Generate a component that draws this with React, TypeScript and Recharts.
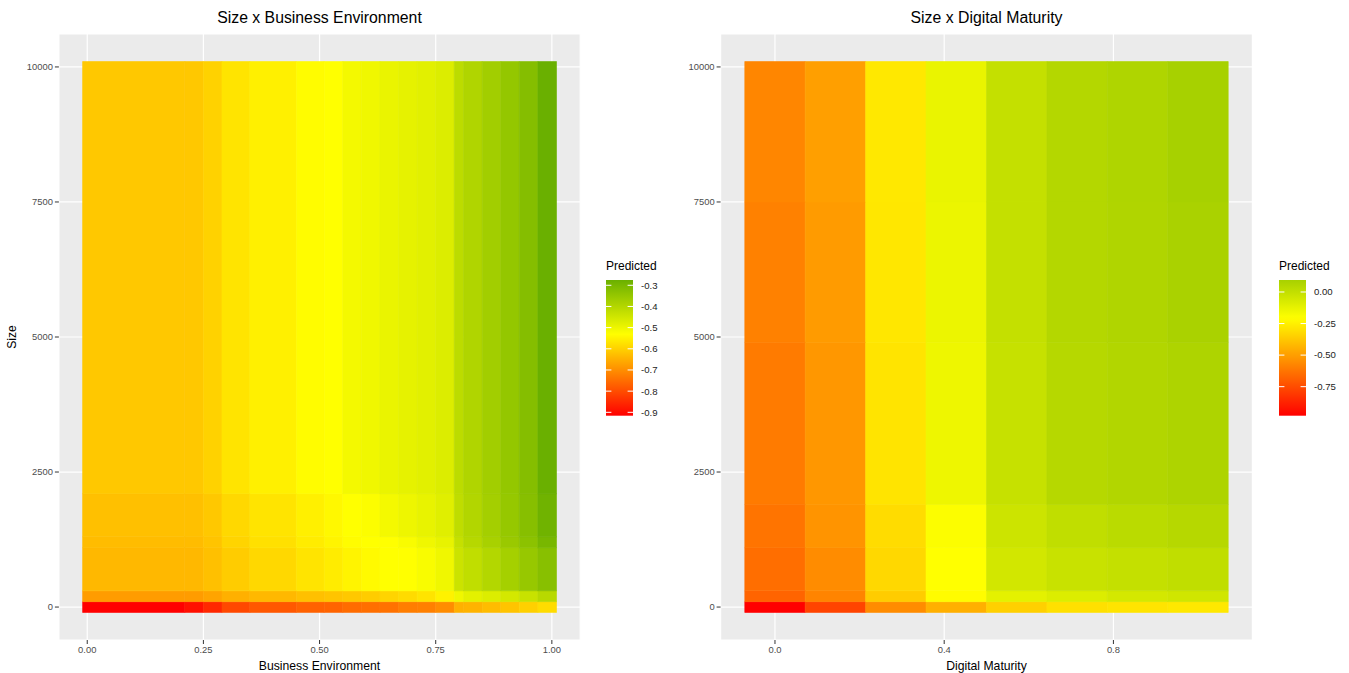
import React from 'react';
import { ScatterChart, Scatter, XAxis, YAxis, CartesianGrid, ReferenceArea } from 'recharts';

const FONT = '"Liberation Sans", Arial, Helvetica, sans-serif';

// ---------- Size x Business Environment ----------
const beXEdges = [-0.01, 0.21, 0.25, 0.29, 0.35, 0.45, 0.51, 0.55, 0.59, 0.63, 0.67, 0.71, 0.75, 0.79, 0.81, 0.85, 0.89, 0.93, 0.97, 1.01];
const beSizeEdges = [-100, 100, 300, 1100, 1300, 2100, 10100];
const beSize0 = [-0.916, -0.892, -0.855, -0.807, -0.783, -0.767, -0.765, -0.752, -0.748, -0.744, -0.725, -0.722, -0.704, -0.65, -0.645, -0.631, -0.619, -0.601, -0.583];
const beSize200 = [-0.68, -0.68, -0.668, -0.65, -0.637, -0.625, -0.619, -0.613, -0.607, -0.595, -0.585, -0.571, -0.55, -0.504, -0.484, -0.47, -0.456, -0.436, -0.408];
const beSize400 = [-0.637, -0.637, -0.625, -0.607, -0.589, -0.571, -0.559, -0.547, -0.537, -0.53, -0.53, -0.52, -0.504, -0.44, -0.422, -0.4, -0.376, -0.352, -0.326];
const beSize1200 = [-0.631, -0.631, -0.619, -0.595, -0.577, -0.559, -0.547, -0.535, -0.53, -0.53, -0.52, -0.504, -0.49, -0.43, -0.405, -0.38, -0.356, -0.332, -0.298];
const beSize1400 = [-0.625, -0.625, -0.613, -0.589, -0.571, -0.553, -0.54, -0.53, -0.525, -0.511, -0.5, -0.491, -0.477, -0.42, -0.398, -0.374, -0.35, -0.324, -0.285];
const beSize2200 = [-0.613, -0.613, -0.598, -0.571, -0.553, -0.535, -0.53, -0.511, -0.504, -0.494, -0.487, -0.48, -0.47, -0.415, -0.395, -0.371, -0.347, -0.32, -0.275];
const bePredicted = [beSize0, beSize200, beSize400, beSize1200, beSize1400, beSize2200];
const beMidpoint = -0.53;
const beXTicks = [0, 0.25, 0.5, 0.75, 1];
const beXMinor = [0.125, 0.375, 0.625, 0.875];
const beLegendTicks = [-0.3, -0.4, -0.5, -0.6, -0.7, -0.8, -0.9];

// ---------- Size x Digital Maturity ----------
const dmXEdges = [-0.0714, 0.0714, 0.2143, 0.3571, 0.5, 0.6429, 0.7857, 0.9286, 1.0714];
const dmSizeEdges = [-100, 100, 300, 1100, 1900, 4900, 7500, 10100];
const dmSize0 = [-0.98, -0.774, -0.556, -0.447, -0.35, -0.301, -0.289, -0.277];
const dmSize200 = [-0.677, -0.58, -0.362, -0.216, -0.114, -0.087, -0.059, -0.045];
const dmSize400 = [-0.647, -0.556, -0.325, -0.207, -0.052, -0.018, -0.004, 0.009];
const dmSize1200 = [-0.628, -0.531, -0.313, -0.197, -0.032, 0.009, 0.03, 0.044];
const dmSize2000 = [-0.608, -0.521, -0.289, -0.149, -0.01, 0.044, 0.057, 0.071];
const dmSize5000 = [-0.588, -0.509, -0.279, -0.142, -0.004, 0.051, 0.064, 0.085];
const dmSize7600 = [-0.574, -0.497, -0.277, -0.135, -0.004, 0.051, 0.068, 0.095];
const dmPredicted = [dmSize0, dmSize200, dmSize400, dmSize1200, dmSize2000, dmSize5000, dmSize7600];
const dmMidpoint = -0.207;
const dmXTicks = [0, 0.4, 0.8];
const dmXMinor = [0.2, 0.6, 1.0];
const dmLegendTicks = [0, -0.25, -0.5, -0.75];

// ---------- shared ----------
const sizeTicks = [0, 2500, 5000, 7500, 10000];
const sizeMinor = [1250, 3750, 6250, 8750];

const LOW = [255, 0, 0];
const MIDC = [255, 255, 0];
const HIGH = [30, 136, 0];

function colorFor(v: number, mid: number, span: number): string {
  const t = (v - mid) / span;
  const target = t < 0 ? LOW : HIGH;
  const u = Math.min(1, Math.abs(t));
  const c = MIDC.map((m, i) => Math.round(m + (target[i] - m) * u));
  return `rgb(${c[0]},${c[1]},${c[2]})`;
}

function rangeOf(rows: number[][]) {
  const all = rows.flat();
  return { min: Math.min(...all), max: Math.max(...all) };
}

function expandDomain(edges: number[]): [number, number] {
  const a = edges[0];
  const b = edges[edges.length - 1];
  const e = (b - a) * 0.05;
  return [a - e, b + e];
}

const minorGen = (values: number[], key: 'xAxis' | 'yAxis') => (p: any) => {
  const ax = p && p[key];
  const s = ax && ax.scale;
  if (typeof s === 'function') {
    return values.map((v) => s(v)).filter((n) => typeof n === 'number' && isFinite(n));
  }
  return [];
};

type HeatProps = {
  xEdges: number[];
  yEdges: number[];
  rows: number[][];
  mid: number;
  xTicks: number[];
  xMinor: number[];
  xFmt: (v: number) => string;
  width: number;
  yAxisWidth: number;
  marginRight: number;
};

function Heatmap({ xEdges, yEdges, rows, mid, xTicks, xMinor, xFmt, width, yAxisWidth, marginRight }: HeatProps) {
  const { min, max } = rangeOf(rows);
  const span = Math.max(mid - min, max - mid);
  const cells: { x1: number; x2: number; y1: number; y2: number; v: number }[] = [];
  rows.forEach((row, j) =>
    row.forEach((v, i) => cells.push({ x1: xEdges[i], x2: xEdges[i + 1], y1: yEdges[j], y2: yEdges[j + 1], v }))
  );
  const centers = cells.map((c) => ({ x: (c.x1 + c.x2) / 2, y: (c.y1 + c.y2) / 2 }));
  const tickStyle = { fontSize: 9.4, fill: '#4d4d4d', fontFamily: FONT };
  return (
    <ScatterChart width={width} height={673} margin={{ top: 34, right: marginRight, bottom: 0, left: 0 }}>
      <CartesianGrid fill="#ebebeb" fillOpacity={1} stroke="#ffffff" strokeWidth={1.2} />
      <CartesianGrid
        stroke="#ffffff"
        strokeWidth={0.6}
        verticalCoordinatesGenerator={minorGen(xMinor, 'xAxis')}
        horizontalCoordinatesGenerator={minorGen(sizeMinor, 'yAxis')}
      />
      <XAxis
        type="number"
        dataKey="x"
        domain={expandDomain(xEdges)}
        ticks={xTicks}
        interval={0}
        tickFormatter={xFmt}
        allowDataOverflow
        axisLine={false}
        tickLine={{ stroke: '#333333' }}
        tickSize={4}
        tickMargin={2}
        height={33}
        tick={tickStyle}
      />
      <YAxis
        type="number"
        dataKey="y"
        domain={expandDomain(yEdges)}
        ticks={sizeTicks}
        interval={0}
        allowDataOverflow
        axisLine={false}
        tickLine={{ stroke: '#333333' }}
        tickSize={4}
        tickMargin={2}
        width={yAxisWidth}
        tick={tickStyle}
      />
      {cells.map((c, k) => {
        const col = colorFor(c.v, mid, span);
        return (
          <ReferenceArea
            key={k}
            x1={c.x1}
            x2={c.x2}
            y1={c.y1}
            y2={c.y2}
            fill={col}
            fillOpacity={1}
            stroke={col}
            strokeWidth={0.6}
            ifOverflow="visible"
          />
        );
      })}
      <Scatter data={centers} isAnimationActive={false} shape={() => <g />} />
    </ScatterChart>
  );
}

type BarProps = {
  x: number;
  y: number;
  w: number;
  h: number;
  rows: number[][];
  mid: number;
  ticks: number[];
  fmt: (v: number) => string;
  id: string;
};

function ColorBar({ x, y, w, h, rows, mid, ticks, fmt, id }: BarProps) {
  const { min, max } = rangeOf(rows);
  const span = Math.max(mid - min, max - mid);
  const n = 30;
  const stops = Array.from({ length: n + 1 }, (_, i) => {
    const v = max - ((max - min) * i) / n;
    return <stop key={i} offset={`${(i / n) * 100}%`} stopColor={colorFor(v, mid, span)} />;
  });
  const yOf = (v: number) => y + ((max - v) / (max - min)) * h;
  return (
    <g>
      <defs>
        <linearGradient id={id} x1="0" y1="0" x2="0" y2="1">
          {stops}
        </linearGradient>
      </defs>
      <text x={x} y={y - 10} fontSize={12} fill="#000" fontFamily={FONT}>
        Predicted
      </text>
      <rect x={x} y={y} width={w} height={h} fill={`url(#${id})`} />
      {ticks.map((t) => {
        const ty = yOf(t);
        return (
          <g key={t}>
            <line x1={x} x2={x + w * 0.2} y1={ty} y2={ty} stroke="#ffffff" strokeWidth={1} />
            <line x1={x + w * 0.8} x2={x + w} y1={ty} y2={ty} stroke="#ffffff" strokeWidth={1} />
            <text x={x + w + 8} y={ty} dy="0.35em" fontSize={9.6} fill="#222" fontFamily={FONT}>
              {fmt(t)}
            </text>
          </g>
        );
      })}
    </g>
  );
}

export default function App() {
  return (
    <div style={{ position: 'absolute', left: 0, top: 0, width: 1349, height: 673, background: '#ffffff', overflow: 'hidden' }}>
      <div style={{ position: 'absolute', left: 0, top: 0 }}>
        <Heatmap
          xEdges={beXEdges}
          yEdges={beSizeEdges}
          rows={bePredicted}
          mid={beMidpoint}
          xTicks={beXTicks}
          xMinor={beXMinor}
          xFmt={(v) => v.toFixed(2)}
          width={600}
          yAxisWidth={58.9}
          marginRight={19.8}
        />
      </div>
      <div style={{ position: 'absolute', left: 660, top: 0 }}>
        <Heatmap
          xEdges={dmXEdges}
          yEdges={dmSizeEdges}
          rows={dmPredicted}
          mid={dmMidpoint}
          xTicks={dmXTicks}
          xMinor={dmXMinor}
          xFmt={(v) => v.toFixed(1)}
          width={600}
          yAxisWidth={60.6}
          marginRight={7.6}
        />
      </div>
      <svg width={1349} height={673} style={{ position: 'absolute', left: 0, top: 0, pointerEvents: 'none' }}>
        <text x={319.5} y={23} textAnchor="middle" fontSize={15.8} fill="#000" fontFamily={FONT}>
          Size x Business Environment
        </text>
        <text x={986.5} y={23} textAnchor="middle" fontSize={15.8} fill="#000" fontFamily={FONT}>
          Size x Digital Maturity
        </text>
        <text x={319.5} y={670} textAnchor="middle" fontSize={12.2} fill="#000" fontFamily={FONT}>
          Business Environment
        </text>
        <text x={986.5} y={670} textAnchor="middle" fontSize={12.2} fill="#000" fontFamily={FONT}>
          Digital Maturity
        </text>
        <text x={16} y={337} textAnchor="middle" fontSize={12.2} fill="#000" fontFamily={FONT} transform="rotate(-90 16 337)">
          Size
        </text>
        <ColorBar x={606} y={280} w={27} h={135.7} rows={bePredicted} mid={beMidpoint} ticks={beLegendTicks} fmt={(v) => v.toFixed(1)} id="beGrad" />
        <ColorBar x={1279} y={280} w={27} h={135.7} rows={dmPredicted} mid={dmMidpoint} ticks={dmLegendTicks} fmt={(v) => v.toFixed(2)} id="dmGrad" />
      </svg>
    </div>
  );
}
